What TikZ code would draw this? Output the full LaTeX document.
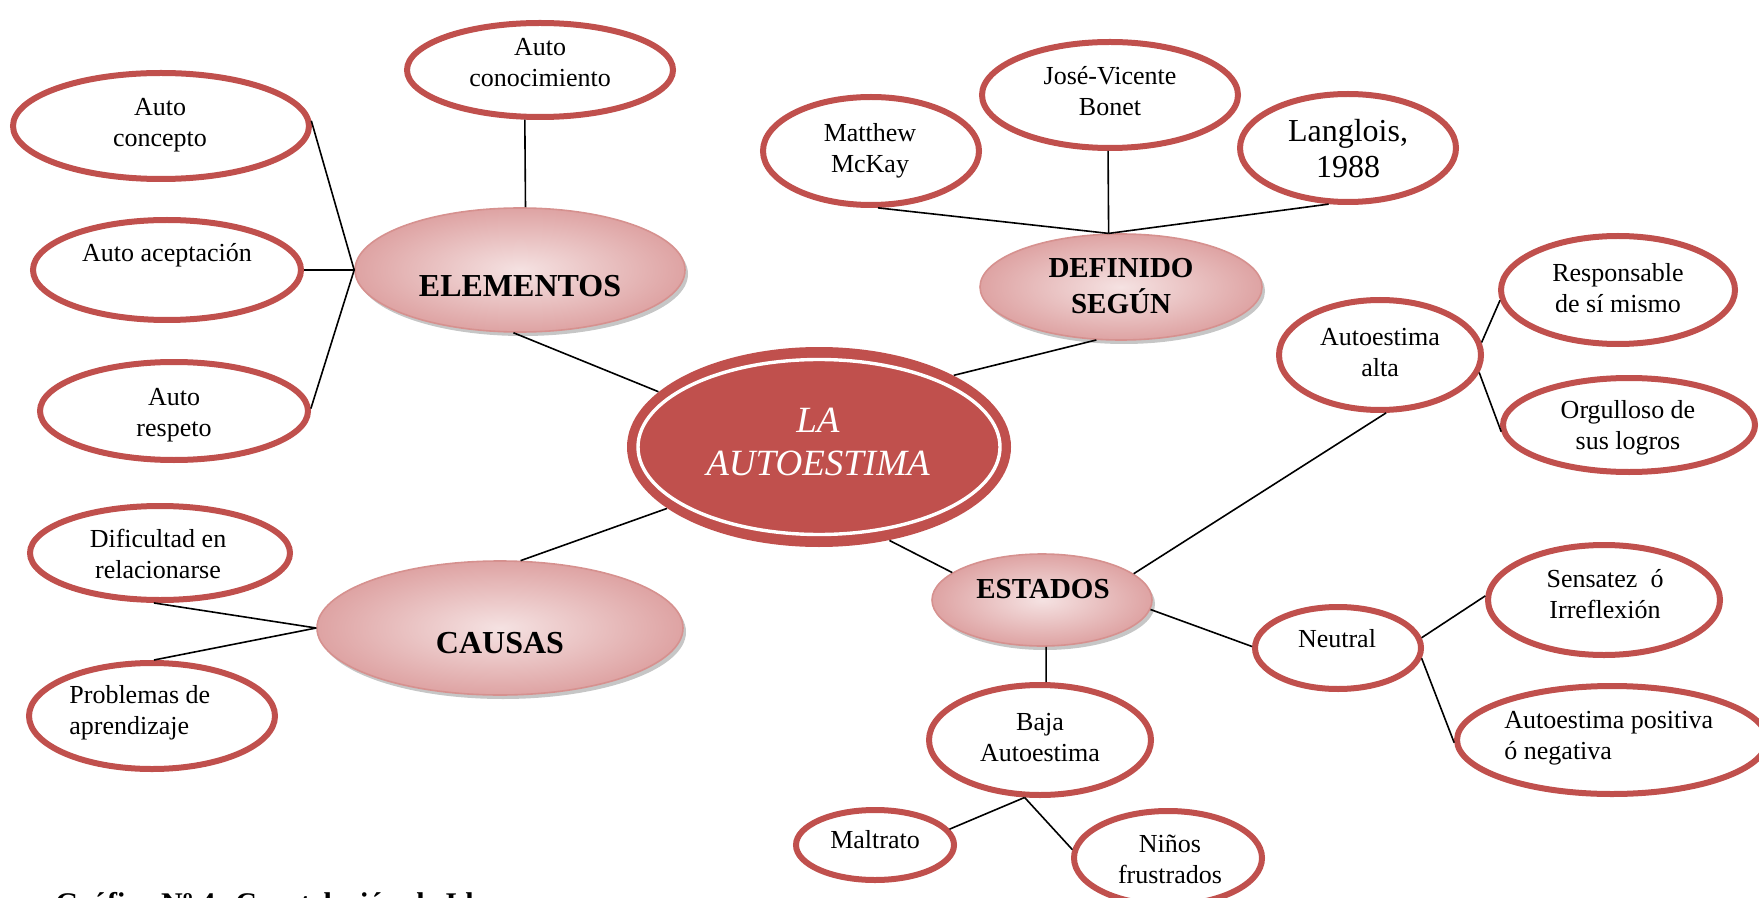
\documentclass[tikz,border=0pt]{standalone}
\usepackage{fontspec}
\setmainfont{Liberation Serif}
\usetikzlibrary{shapes.geometric,shadows}
\definecolor{acc}{RGB}{192,80,77}
\definecolor{pbord}{RGB}{214,145,143}
\definecolor{plight}{RGB}{245,226,226}
\definecolor{pdark}{RGB}{222,163,163}
\newcommand{\tl}[2]{\begin{tabular}[t]{@{}c@{}}#1\\#2\end{tabular}}
\newcommand{\tll}[2]{\begin{tabular}[t]{@{}l@{}}#1\\#2\end{tabular}}
\begin{document}
\begin{tikzpicture}[x=0.5pt,y=-0.5pt,
  oval/.style={ellipse, draw=acc, line width=3pt, fill=white, inner sep=0pt},
  pinkov/.style={ellipse, draw=pbord, line width=0.8pt, inner color=plight, outer color=pdark, inner sep=0pt,
     drop shadow={shadow xshift=1.5pt, shadow yshift=-2pt, fill=black!50, opacity=0.45}},
  txt/.style={font=\fontsize{13}{15.5}\selectfont, inner sep=0pt, anchor=base},
  bigl/.style={font=\fontsize{16}{18}\selectfont\bfseries, inner sep=0pt, anchor=base},
  midl/.style={font=\fontsize{14.5}{17}\selectfont\bfseries, inner sep=0pt, anchor=base},
  link/.style={draw=black, line width=0.8pt}]
\useasboundingbox (0,0) rectangle (1759,898);

% ---------- ellipses ----------
\node[oval, minimum width=133pt, minimum height=47pt] (conoc) at (540,70) {};
\node[oval, minimum width=148pt, minimum height=53pt] (conc) at (161,126) {};
\node[oval, minimum width=134pt, minimum height=50pt] (acep) at (167,270) {};
\node[oval, minimum width=134pt, minimum height=49pt] (resp) at (174,411) {};
\node[pinkov, minimum width=165pt, minimum height=62pt] (elem) at (520,270) {};
\node[ellipse, fill=acc, inner sep=0pt, minimum width=192pt, minimum height=100pt] (auto) at (819,447) {};
\draw[white, line width=1.7pt] (auto.center) ellipse [x radius=90.5pt, y radius=43.75pt];
\node[pinkov, minimum width=141pt, minimum height=53pt] (def) at (1121,287) {};
\node[oval, minimum width=108pt, minimum height=54pt] (mckay) at (871,151) {};
\node[oval, minimum width=128pt, minimum height=53pt] (jose) at (1110,95) {};
\node[oval, minimum width=108pt, minimum height=54pt] (lang) at (1348,148) {};
\node[oval, minimum width=101pt, minimum height=55pt] (alta) at (1380,355) {};
\node[oval, minimum width=117pt, minimum height=54pt] (respo) at (1618,290) {};
\node[oval, minimum width=126pt, minimum height=47pt] (orgu) at (1629,425) {};
\node[pinkov, minimum width=110pt, minimum height=46pt] (estados) at (1042,600) {};
\node[oval, minimum width=83pt, minimum height=41pt] (neutral) at (1338,648) {};
\node[oval, minimum width=116pt, minimum height=55pt] (sens) at (1604,600) {};
\node[oval, minimum width=155pt, minimum height=54pt] (posit) at (1612,740) {};
\node[oval, minimum width=111pt, minimum height=55pt] (baja) at (1040,740) {};
\node[oval, minimum width=79pt, minimum height=35pt] (maltr) at (875,845) {};
\node[oval, minimum width=94pt, minimum height=47pt] (ninos) at (1168,858) {};
\node[pinkov, minimum width=183pt, minimum height=67pt] (causas) at (500,628) {};
\node[oval, minimum width=130pt, minimum height=47pt] (difi) at (160,553) {};
\node[oval, minimum width=123pt, minimum height=53pt] (probl) at (152,716) {};

% ---------- connectors ----------
\draw[link] (conoc.-107) -- (elem.85);
\draw[link] (elem.180) -- (conc.2);
\draw[link] (elem.180) -- (acep.0);
\draw[link] (elem.180) -- (resp.1);
\draw[link] (elem.-96) -- (auto.161);
\draw[link] (def.-115) -- (auto.28);
\draw[link] (mckay.-83) -- (def.103);
\draw[link] (jose.-92) -- (def.103);
\draw[link] (lang.-109) -- (def.103);
\draw[link] (auto.-158) -- (causas.73);
\draw[link] (causas.180) -- (difi.-97);
\draw[link] (causas.180) -- (probl.88);
\draw[link] (auto.-53) -- (estados.163);
\draw[link] (estados.16) -- (alta.-84);
\draw[link] (estados.-5) -- (neutral.179);
\draw[link] (estados.-85) -- (baja.84);
\draw[link] (neutral.7) -- (sens.178);
\draw[link] (neutral.-7) -- (posit.181);
\draw[link] (alta.7) -- (respo.-175);
\draw[link] (alta.-10) -- (orgu.-177);
\draw[link] (baja.-105) -- (maltr.12);
\draw[link] (baja.-105) -- (ninos.175);

% ---------- texts ----------
\node[txt] (tconoc) at (540,56) {\tl{Auto}{conocimiento}};
\node[txt] (tconc) at (160,116) {\tl{Auto}{concepto}};
\node[txt] (tacep) at (167,262) {Auto aceptación};
\node[txt] (tresp) at (174,405) {\tl{Auto}{respeto}};
\node[bigl] (telem) at (520,297) {ELEMENTOS};
\node[inner sep=0pt, anchor=base, text=white, font=\fontsize{18.5}{21.5}\selectfont\itshape] (tauto) at (818,432) {\tl{LA}{AUTOESTIMA}};
\node[midl] (tdef) at (1121,278) {\tl{DEFINIDO}{SEGÚN}};
\node[txt] (tmckay) at (870,142) {\tl{Matthew}{McKay}};
\node[txt] (tjose) at (1110,85) {\tl{José-Vicente}{Bonet}};
\node[txt, font=\fontsize{16}{18}\selectfont] (tlang) at (1348,142) {\tl{Langlois,}{1988}};
\node[txt] (talta) at (1380,345) {\tl{Autoestima}{alta}};
\node[txt] (trespo) at (1618,282) {\tl{Responsable}{de sí mismo}};
\node[txt] (torgu) at (1628,418) {\tl{Orgulloso de}{sus logros}};
\node[midl] (testados) at (1043,598) {ESTADOS};
\node[txt] (tneutral) at (1337,647) {Neutral};
\node[txt] (tsens) at (1605,587) {\tl{Sensatez\ \ ó}{Irreflexión}};
\node[txt, anchor=base west] (tposit) at (1504,728) {\tll{Autoestima positiva}{ó negativa}};
\node[txt] (tbaja) at (1040,730) {\tl{Baja}{Autoestima}};
\node[txt] (tmaltr) at (875,848) {Maltrato};
\node[txt] (tninos) at (1170,852) {\tl{Niños}{frustrados}};
\node[bigl] (tcausas) at (500,653) {CAUSAS};
\node[txt] (tdifi) at (158,547) {\tl{Dificultad en}{relacionarse}};
\node[txt, anchor=base west] (tprobl) at (69,703) {\tll{Problemas de}{aprendizaje}};
\node[inner sep=0pt, anchor=base west, font=\fontsize{15}{18}\selectfont\bfseries] (caption) at (55,913) {Gráfico Nº 4: Constelación de Ideas};
\end{tikzpicture}
\end{document}
